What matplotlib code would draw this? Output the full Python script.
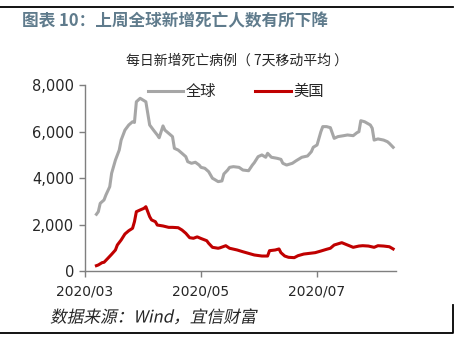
import matplotlib
matplotlib.use("Agg")
import matplotlib.pyplot as plt
import matplotlib.dates as mdates
from matplotlib.lines import Line2D
from matplotlib.ticker import FuncFormatter
from matplotlib.patheffects import AbstractPathEffect
from matplotlib.transforms import Affine2D
import pandas as pd

plt.rcParams['font.family'] = ['Noto Sans CJK SC', 'DejaVu Sans']

# 7-day moving average of daily new deaths, global
global_dates = [
    "2020-03-07", "2020-03-08", "2020-03-09", "2020-03-11", "2020-03-12", "2020-03-14",
    "2020-03-15", "2020-03-17", "2020-03-19", "2020-03-20", "2020-03-22", "2020-03-24",
    "2020-03-26", "2020-03-27", "2020-03-28", "2020-03-30", "2020-04-02", "2020-04-03",
    "2020-04-04", "2020-04-06", "2020-04-08", "2020-04-09", "2020-04-11", "2020-04-12",
    "2020-04-14", "2020-04-16", "2020-04-17", "2020-04-19", "2020-04-21", "2020-04-23",
    "2020-04-24", "2020-04-26", "2020-04-28", "2020-04-30", "2020-05-01", "2020-05-03",
    "2020-05-05", "2020-05-07", "2020-05-08", "2020-05-10", "2020-05-12", "2020-05-13",
    "2020-05-15", "2020-05-16", "2020-05-18", "2020-05-21", "2020-05-23", "2020-05-26",
    "2020-05-28", "2020-05-29", "2020-05-31", "2020-06-02", "2020-06-04", "2020-06-05",
    "2020-06-07", "2020-06-10", "2020-06-12", "2020-06-13", "2020-06-15", "2020-06-18",
    "2020-06-20", "2020-06-23", "2020-06-26", "2020-06-28", "2020-06-29", "2020-07-01",
    "2020-07-03", "2020-07-04", "2020-07-06", "2020-07-08", "2020-07-10", "2020-07-12",
    "2020-07-15", "2020-07-17", "2020-07-20", "2020-07-22", "2020-07-23", "2020-07-24",
    "2020-07-26", "2020-07-29", "2020-07-30", "2020-07-31", "2020-08-02", "2020-08-05",
    "2020-08-07", "2020-08-08", "2020-08-10",
]
global_deaths = [
    2443, 2555, 2915, 3060, 3275, 3630,
    4210, 4780, 5210, 5640, 6070, 6290,
    6430, 6400, 7290, 7440, 7290, 6790,
    6290, 6070, 5860, 5740, 6250, 6070,
    5930, 5790, 5285, 5210, 5070, 4925,
    4710, 4640, 4685, 4565, 4465, 4425,
    4280, 3995, 3950, 3850, 3880, 4180,
    4350, 4465, 4495, 4465, 4350, 4320,
    4565, 4665, 4925, 5000, 4900, 5070,
    4900, 4855, 4810, 4640, 4565, 4640,
    4750, 4900, 4955, 5140, 5330, 5430,
    6000, 6220, 6220, 6175, 5715, 5790,
    5830, 5860, 5830, 5960, 6000, 6475,
    6430, 6290, 6150, 5640, 5690, 5640,
    5570, 5500, 5330,
]

# 7-day moving average of daily new deaths, United States
us_dates = [
    "2020-03-07", "2020-03-08", "2020-03-10", "2020-03-11", "2020-03-13", "2020-03-15",
    "2020-03-17", "2020-03-18", "2020-03-20", "2020-03-22", "2020-03-24", "2020-03-26",
    "2020-03-27", "2020-03-28", "2020-03-30", "2020-04-01", "2020-04-02", "2020-04-04",
    "2020-04-05", "2020-04-07", "2020-04-08", "2020-04-11", "2020-04-14", "2020-04-16",
    "2020-04-19", "2020-04-21", "2020-04-23", "2020-04-25", "2020-04-27", "2020-04-29",
    "2020-05-01", "2020-05-04", "2020-05-05", "2020-05-07", "2020-05-10", "2020-05-11",
    "2020-05-14", "2020-05-16", "2020-05-20", "2020-05-23", "2020-05-26", "2020-05-29",
    "2020-06-02", "2020-06-05", "2020-06-06", "2020-06-09", "2020-06-11", "2020-06-12",
    "2020-06-14", "2020-06-16", "2020-06-19", "2020-06-21", "2020-06-24", "2020-06-27",
    "2020-06-30", "2020-07-03", "2020-07-06", "2020-07-08", "2020-07-10", "2020-07-14",
    "2020-07-17", "2020-07-20", "2020-07-23", "2020-07-25", "2020-07-28", "2020-07-31",
    "2020-08-02", "2020-08-05", "2020-08-08", "2020-08-10",
]
us_deaths = [
    230, 260, 360, 375, 545, 720,
    905, 1120, 1335, 1595, 1735, 1840,
    2125, 2555, 2630, 2700, 2770, 2340,
    2200, 2125, 1980, 1940, 1880, 1880,
    1865, 1765, 1625, 1435, 1410, 1470,
    1400, 1305, 1195, 1020, 980, 1000,
    1090, 980, 905, 830, 760, 690,
    645, 645, 875, 905, 950, 790,
    645, 590, 575, 660, 730, 760,
    790, 860, 935, 980, 1120, 1220,
    1120, 1020, 1075, 1090, 1075, 1020,
    1090, 1075, 1045, 950,
]

series_labels = ["全球", "美国"]
series_colors = ["#a6a6a6", "#c00000"]
x_ticks = ["2020-03-01", "2020-05-01", "2020-07-01"]
y_ticks = [0, 2000, 4000, 6000, 8000]


class Oblique(AbstractPathEffect):
    """Slant glyph outlines about the text baseline (faux italic)."""

    def __init__(self, angle=12):
        super().__init__()
        self.angle = angle

    def draw_path(self, renderer, gc, tpath, affine, rgbFace=None):
        y0 = affine.get_matrix()[1, 2]
        slant = Affine2D().translate(0, -y0).skew_deg(self.angle, 0).translate(0, y0)
        renderer.draw_path(gc, tpath, affine + slant, rgbFace)


W, H = 465, 341
fig = plt.figure(figsize=(W / 100, H / 100), dpi=100)
fig.patch.set_facecolor("white")

ax = fig.add_axes([85 / W, 1 - 271 / H, (396 - 85) / W, (271 - 85.3) / H])
ax.plot(pd.to_datetime(global_dates), global_deaths, color=series_colors[0],
        lw=2.2, solid_joinstyle="round")
ax.plot(pd.to_datetime(us_dates), us_deaths, color=series_colors[1],
        lw=2.2, solid_joinstyle="round")

ax.set_xlim(pd.Timestamp("2020-03-01"), pd.Timestamp("2020-03-01") + pd.Timedelta(days=163.5))
ax.set_ylim(0, 8000)
ax.set_xticks(pd.to_datetime(x_ticks))
ax.xaxis.set_major_formatter(mdates.DateFormatter("%Y/%m"))
ax.set_yticks(y_ticks)
ax.yaxis.set_major_formatter(FuncFormatter(lambda v, p: f"{int(v):,}"))

for side in ["top", "right"]:
    ax.spines[side].set_visible(False)
for side in ["left", "bottom"]:
    ax.spines[side].set_color("#7f7f7f")
    ax.spines[side].set_linewidth(1.0)
ax.tick_params(axis="both", colors="#7f7f7f", labelcolor="#262626",
               length=4, width=1.0, direction="out")
ax.tick_params(axis="x", pad=6, labelsize=10)
ax.tick_params(axis="y", pad=4, labelsize=10.5)
for lbl in ax.get_xticklabels() + ax.get_yticklabels():
    lbl.set_family(["DejaVu Sans"])

# legend drawn as short line samples with labels
for (x0, x1, tx), lab, col in zip([(148, 183, 186), (255, 291, 293)], series_labels, series_colors):
    fig.add_artist(Line2D([x0 / W, x1 / W], [1 - 91 / H, 1 - 91 / H],
                          color=col, lw=2.2, transform=fig.transFigure))
    fig.text(tx / W, 1 - 91 / H, lab, fontsize=11, color="#262626",
             ha="left", va="center")

fig.text(237 / W, 1 - 61 / H, "每日新增死亡病例（ 7天移动平均 ）", fontsize=10,
         color="#262626", ha="center", va="center")

fig.text(22 / W, 1 - 21 / H, "图表 10：上周全球新增死亡人数有所下降", fontsize=12,
         fontweight="bold", color="#5f7b8c", ha="left", va="center")

fig.text(50 / W, 1 - 318 / H, "数据来源：Wind，宜信财富", fontsize=12,
         color="#262626", ha="left", va="center", path_effects=[Oblique(12)])

# frame rules
fig.add_artist(Line2D([0, 453 / W], [1 - 7 / H, 1 - 7 / H], color="black",
                      lw=1.3, transform=fig.transFigure))
fig.add_artist(Line2D([0, 453 / W, 453 / W], [1 - 333 / H, 1 - 333 / H, 1 - 305 / H],
                      color="black", lw=1.3, transform=fig.transFigure))

fig.savefig("out.png", dpi=100)
